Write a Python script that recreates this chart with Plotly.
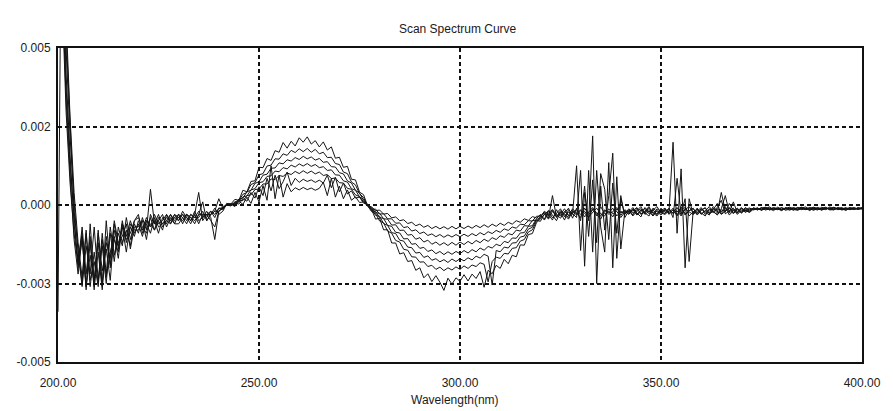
import plotly.graph_objects as go

# Wavelength axis (nm), 1 nm steps
wavelength = list(range(200, 401))

# Seven scanned spectra, values in mAU (absorbance x 1e-3)
curve_1 = [
    14.0, 9.0, 4.2, 1.6, -0.6, -1.8, -0.9, -2.6, -1.2, -2.7,
    -0.8, -2.5, -1.0, -1.9, -0.6, -1.4, -0.5, -1.2, -0.7, -1.0,
    -0.5, -0.8, -0.4, -0.7, -0.5, -0.9, -0.4, -0.6, -0.3, -0.5,
    -0.4, -0.3, -0.5, -0.3, -0.4, -0.2, -0.4, -0.3, -0.3, -0.2, -0.2, -0.1, 0.0,
    0.03, 0.18, 0.15, 0.47, 0.42, 0.75, 0.77, 1.20, 1.19, 1.48, 1.42, 1.73, 1.68, 1.99,
    1.81, 2.03, 1.88, 2.14, 2.00, 2.17, 1.94, 2.05, 1.85, 2.01, 1.75, 1.85, 1.49, 1.52,
    1.20, 1.23, 0.82, 0.80, 0.41, 0.33, -0.02,
    -0.14, -0.45, -0.42, -0.79, -0.79, -1.21, -1.21, -1.56, -1.52, -1.80, -1.77, -2.08, -2.00, -2.32,
    -2.19, -2.44, -2.25, -2.46, -2.72, -2.33, -2.52, -2.32, -2.43, -2.22, -2.42, -2.20, -2.34, -2.12,
    -2.62, -2.08, -2.19, -1.92, -2.02, -1.73, -1.87, -1.60, -1.65, -1.27, -1.28, -0.94, -0.91, -0.57,
    -0.45, -0.32, -0.18, -0.41, -0.25, -0.12, -0.38, -0.22, -0.30,
    1.25, -1.45, 0.40, -0.50, 2.20, -2.50, 0.60, -0.80, 0.30, 1.65, -1.70, 0.20, -0.30,
    -0.15, -0.32, -0.10, -0.28, -0.20, -0.05, -0.35, -0.18, -0.26, -0.12,
    -0.30, -0.15, -0.35, -0.05, -0.28, -0.20, -0.10,
    -0.32, -0.18, -0.08, -0.27, -0.15, 0.05, -0.30, -0.20, -0.10, -0.25, -0.12, -0.22, -0.08, -0.18,
    -0.10, -0.16, -0.08, -0.14, -0.12, -0.18, -0.07, -0.13, -0.10, -0.17, -0.09, -0.14, -0.11, -0.06,
    -0.15, -0.12, -0.08, -0.16, -0.10, -0.13, -0.07, -0.14, -0.11, -0.09, -0.15, -0.10, -0.12, -0.08,
]

curve_2 = [
    -3.4, 12.0, 6.0, 2.8, 0.4, -1.2, -2.3, -0.8, -2.6, -1.5,
    -2.5, -0.9, -2.2, -0.7, -1.6, -0.9, -1.3, -0.4, -1.1, -0.6,
    -0.9, -0.4, -0.8, 0.5, -0.6, -0.3, -0.7, -0.5, -0.6, -0.3,
    -0.5, -0.3, -0.4, -0.6, -0.3, 0.4, -0.5, -0.3, -0.2, -0.4, -0.1, -0.1, 0.0,
    -0.02, 0.10, 0.14, 0.34, 0.40, 0.65, 0.71, 0.96, 1.00, 1.24, 1.27, 1.47, 1.46, 1.63,
    1.58, 1.74, 1.67, 1.79, 1.70, 1.80, 1.68, 1.77, 1.63, 1.68, 1.51, 1.52, 1.32, 1.29,
    1.05, 1.00, 0.73, 0.64, 0.36, 0.24, -0.02,
    -0.21, -0.27, -0.51, -0.57, -0.83, -0.90, -1.13, -1.18, -1.41, -1.44, -1.65, -1.66, -1.82, -1.81,
    -1.96, -1.92, -2.05, -1.98, -2.09, -2.00, -2.07, -1.97, -2.05, -1.94, -2.02, -1.91, -1.96, -1.84,
    -1.89, -2.45, -1.80, -1.66, -1.70, -1.54, -1.56, -1.38, -1.36, -1.15, -1.10, -0.86, -0.79, -0.52,
    -0.40, -0.22, -0.35, -0.15, -0.30, -0.42, -0.20, -0.33, -0.12,
    -0.25, -0.40, -0.10, -0.30, -0.15, -0.35, -0.05, -0.28, -0.20, -0.38, -0.12, -0.25, -0.18,
    -0.30, -0.12, -0.25, -0.38, -0.08, -0.22, -0.15, -0.30, -0.10, -0.24,
    -0.20, 2.00, -0.90, 1.15, -2.00, 0.20, -0.30,
    -0.10, -0.28, -0.20, -0.05, -0.22, -0.30, -0.12, 0.30, -0.25, -0.15, -0.20, -0.08, -0.24, -0.14,
    -0.14, -0.09, -0.17, -0.11, -0.06, -0.15, -0.12, -0.18, -0.08, -0.13, -0.16, -0.10, -0.07, -0.14,
    -0.12, -0.17, -0.09, -0.11, -0.15, -0.06, -0.13, -0.10, -0.16, -0.12, -0.08, -0.14, -0.09, -0.11,
]

curve_3 = [
    11.0, 7.5, 3.4, 1.0, -1.1, -2.2, -1.0, -2.7, -0.6, -2.4,
    -1.2, -2.6, -0.5, -2.0, -1.1, -1.5, -0.6, -1.0, -0.5, -0.9,
    -0.6, -1.0, -0.5, -0.7, -0.3, -0.6, -0.5, -0.3, -0.6, -0.4,
    -0.3, -0.6, -0.3, -0.4, -0.5, -0.3, 0.1, -0.5, -0.3, -0.1, -0.3, -0.2, 0.05,
    0.03, 0.04, 0.19, 0.22, 0.42, 0.47, 0.69, 0.74, 0.95, 0.98, 1.17, 1.18, 1.34, 1.31,
    1.44, 1.40, 1.51, 1.45, 1.55, 1.47, 1.53, 1.43, 1.48, 1.36, 1.38, 1.22, 1.21, 1.03,
    0.99, 0.77, 0.70, 0.47, 0.38, 0.15, 0.02,
    -0.11, -0.33, -0.36, -0.59, -0.65, -0.88, -0.91, -1.12, -1.15, -1.34, -1.36, -1.53, -1.51, -1.67,
    -1.62, -1.76, -1.71, -1.81, -1.74, -1.83, -1.72, -1.80, -1.71, -1.78, -1.68, -1.75, -1.63, -1.69,
    -1.57, -1.63, -2.55, -1.45, -1.49, -1.34, -1.37, -1.21, -1.20, -1.02, -0.99, -0.77, -0.71, -0.48,
    -0.52, -0.28, -0.45, -0.20, -0.36, -0.24, -0.48, -0.15, -0.28,
    -0.40, 1.10, -1.95, 1.10, -1.50, 1.10, -0.70, -1.50, 1.35, -2.00, 0.90, -1.40, -0.20,
    -0.22, -0.08, -0.30, -0.16, -0.25, -0.35, -0.10, -0.20, -0.32, -0.15,
    -0.25, -0.10, -0.30, -0.18, -0.05, -0.35, -0.22,
    -0.15, -0.25, -0.35, -0.12, -0.20, -0.08, 0.15, -0.28, -0.18, -0.10, -0.30, -0.16, -0.21, -0.12,
    -0.12, -0.15, -0.10, -0.07, -0.16, -0.11, -0.14, -0.09, -0.17, -0.12, -0.08, -0.15, -0.13, -0.10,
    -0.18, -0.09, -0.14, -0.11, -0.07, -0.16, -0.12, -0.10, -0.13, -0.17, -0.09, -0.12, -0.14, -0.10,
]

curve_4 = [
    13.0, 10.0, 5.0, 2.2, 0.1, -1.5, -2.6, -1.3, -2.2, -0.7,
    -2.4, -1.3, -2.5, -0.9, -1.8, -0.7, -1.2, -0.8, -1.3, -0.5,
    -0.4, -0.7, -0.9, -0.4, -0.8, -0.5, -0.3, -0.7, -0.4, -0.6,
    -0.6, -0.4, -0.3, -0.5, -0.2, -0.5, -0.4, -0.2, -0.4, -1.1, -0.2, -0.1, 0.0,
    -0.03, 0.08, 0.10, 0.26, 0.29, 0.48, 0.52, 0.71, 0.74, 0.91, 0.93, 1.08, 1.06, 1.19,
    1.15, 1.27, 1.21, 1.31, 1.24, 1.32, 1.23, 1.29, 1.19, 1.22, 1.10, 1.12, 0.96, 0.95,
    0.77, 0.73, 0.52, 0.47, 0.26, 0.18, -0.02,
    -0.18, -0.20, -0.40, -0.43, -0.65, -0.68, -0.87, -0.89, -1.08, -1.07, -1.25, -1.23, -1.38, -1.35,
    -1.48, -1.43, -1.55, -1.48, -1.58, -1.49, -1.57, -1.48, -1.55, -1.45, -1.53, -1.42, -1.49, -1.37,
    -1.44, -1.32, -1.37, -1.25, -1.30, -1.16, -1.20, -1.05, -1.06, -0.89, -0.88, -0.68, -0.66, -0.44,
    -0.30, -0.45, -0.18, -0.32, -0.50, -0.22, -0.28, -0.40, -0.18,
    -0.28, -0.15, -0.38, -0.22, -0.08, -0.30, -0.45, -0.18, -0.25, -0.10, -0.35, -0.20, -0.28,
    -0.12, -0.26, -0.18, -0.05, -0.30, -0.20, -0.35, -0.12, -0.22, -0.28,
    -0.10, -0.40, 0.85, -0.30, 0.20, -1.80, -0.20,
    -0.28, -0.12, -0.22, -0.32, -0.10, -0.25, 0.40, -0.18, -0.08, -0.28, -0.14, -0.25, -0.10, -0.20,
    -0.09, -0.13, -0.16, -0.10, -0.14, -0.08, -0.12, -0.15, -0.11, -0.07, -0.14, -0.17, -0.10, -0.12,
    -0.08, -0.15, -0.11, -0.13, -0.09, -0.14, -0.16, -0.08, -0.12, -0.10, -0.15, -0.11, -0.13, -0.12,
]

curve_5 = [
    12.0, 8.2, 3.8, 1.3, -0.3, -2.0, -1.1, -2.6, -1.6, -2.5,
    -0.9, -2.1, -1.4, -2.4, -0.8, -1.3, -0.7, -1.5, -0.6, -0.8,
    -0.8, -0.5, -0.6, -0.9, -0.4, -0.7, -0.6, -0.4, -0.5, -0.3,
    -0.4, -0.5, -0.3, -0.4, -0.6, -0.3, -0.3, -0.4, -0.2, -0.3, -0.1, -0.15, 0.05,
    0.02, 0.01, 0.15, 0.14, 0.30, 0.32, 0.49, 0.51, 0.67, 0.67, 0.83, 0.81, 0.94, 0.91,
    1.02, 0.97, 1.07, 1.00, 1.09, 1.01, 1.08, 0.99, 1.05, 0.94, 0.97, 0.84, 0.86, 0.71,
    0.70, 0.53, 0.50, 0.32, 0.27, 0.10, 0.01,
    -0.08, -0.25, -0.26, -0.44, -0.45, -0.64, -0.63, -0.81, -0.80, -0.96, -0.94, -1.09, -1.04, -1.18,
    -1.12, -1.25, -1.18, -1.28, -1.20, -1.29, -1.19, -1.28, -1.18, -1.26, -1.16, -1.24, -1.13, -1.20,
    -1.09, -1.16, -1.04, -1.10, -0.98, -1.03, -0.91, -0.95, -0.80, -0.83, -0.66, -0.67, -0.50, -0.48,
    -0.38, -0.20, -0.30, -0.48, -0.15, -0.35, -0.26, -0.10, -0.42,
    -0.10, -0.50, 0.60, -1.00, 0.80, -1.20, 1.00, 0.50, -1.10, 0.70, -0.90, 0.30, -0.40,
    -0.18, -0.35, -0.20, -0.12, -0.26, -0.08, -0.22, -0.30, -0.15, -0.20,
    -0.12, -0.28, -0.18, -0.35, -0.10, -0.22, -0.30,
    -0.20, -0.08, -0.30, -0.15, -0.24, -0.12, -0.22, -0.05, -0.32, -0.18, -0.10, -0.26, -0.15, -0.09,
    -0.16, -0.11, -0.13, -0.08, -0.15, -0.12, -0.10, -0.16, -0.13, -0.09, -0.11, -0.14, -0.08, -0.15,
    -0.10, -0.12, -0.16, -0.07, -0.13, -0.11, -0.09, -0.15, -0.12, -0.14, -0.10, -0.08, -0.13, -0.11,
]

curve_6 = [
    15.0, 11.0, 5.5, 2.5, -0.2, -1.4, -2.5, -0.9, -2.4, -1.8,
    -2.6, -1.1, -2.3, -1.5, -1.0, -1.7, -0.6, -1.1, -0.9, -0.5,
    -0.3, -0.9, -0.5, -0.6, -0.8, -0.4, -0.6, -0.5, -0.3, -0.6,
    -0.3, -0.4, -0.6, -0.3, -0.4, -0.4, -0.2, -0.5, -0.3, -0.2, 0.2, -0.1, 0.0,
    0.0, 0.06, 0.03, 0.20, 0.12, 0.40, 0.22, 0.58, 0.30, 0.85, 0.45, 0.95, 0.52, 0.74,
    1.05, 0.62, 0.85, 0.72, 0.82, 0.75, 0.80, 0.72, 0.79, 0.70, 0.95, 0.55, 0.88, 0.42,
    0.70, 0.35, 0.45, 0.22, 0.25, 0.06, 0.02,
    -0.14, -0.13, -0.29, -0.28, -0.44, -0.44, -0.58, -0.57, -0.72, -0.69, -0.83, -0.79, -0.91, -0.86,
    -0.97, -0.92, -1.01, -0.94, -1.03, -0.95, -1.02, -0.94, -1.01, -0.93, -1.00, -0.91, -0.98, -0.88,
    -0.95, -0.85, -0.91, -0.81, -0.87, -0.76, -0.81, -0.70, -0.74, -0.61, -0.63, -0.50, -0.51, -0.36,
    -0.35, -0.25, -0.42, 0.30, -0.38, -0.18, -0.30, -0.45, -0.20,
    -0.32, -0.18, -0.26, -0.40, -0.12, -0.25, -0.35, -0.15, -0.30, -0.22, -0.08, -0.33, -0.15,
    -0.25, -0.15, -0.32, -0.20, -0.10, -0.28, -0.18, -0.05, -0.25, -0.30,
    -0.18, -0.25, -0.08, -0.30, -0.15, -0.05, -0.25,
    -0.12, -0.30, -0.18, -0.25, -0.05, -0.20, -0.28, -0.10, -0.22, 0.10, -0.25, -0.12, -0.18, -0.22,
    -0.11, -0.14, -0.09, -0.16, -0.12, -0.10, -0.15, -0.08, -0.13, -0.11, -0.16, -0.09, -0.12, -0.14,
    -0.10, -0.07, -0.13, -0.15, -0.11, -0.09, -0.14, -0.12, -0.08, -0.16, -0.11, -0.13, -0.10, -0.12,
]

curve_7 = [
    10.0, 6.8, 3.0, 0.7, -0.9, -1.9, -0.7, -2.2, -1.0, -2.6,
    -1.5, -2.7, -1.2, -1.7, -0.5, -1.2, -1.0, -0.6, -1.4, -0.7,
    -0.7, -0.5, -1.1, -0.3, -0.6, -0.5, -0.8, -0.3, -0.5, -0.4,
    -0.5, -0.2, -0.4, -0.5, -0.3, -0.6, -0.3, -0.3, -0.5, -0.7, -0.2, -0.05, 0.0,
    0.03, -0.05, 0.12, 0.02, 0.25, 0.05, 0.40, 0.10, 0.62, 0.15, 1.25, 0.20, 0.95, 0.25,
    0.68, 0.42, 0.55, 0.48, 0.56, 0.49, 0.54, 0.47, 0.53, 0.72, 0.30, 0.85, 0.25, 0.60,
    0.20, 0.48, 0.15, 0.26, 0.08, 0.10, -0.03,
    -0.06, -0.18, -0.16, -0.29, -0.27, -0.41, -0.38, -0.50, -0.47, -0.59, -0.55, -0.66, -0.61, -0.71,
    -0.65, -0.75, -0.68, -0.76, -0.69, -0.77, -0.68, -0.76, -0.68, -0.75, -0.67, -0.74, -0.65, -0.72,
    -0.63, -0.71, -0.61, -0.68, -0.58, -0.65, -0.55, -0.61, -0.50, -0.55, -0.44, -0.49, -0.37, -0.41,
    -0.33, -0.48, -0.25, -0.15, -0.40, -0.30, -0.12, -0.35, -0.25,
    -0.15, -0.30, -0.20, -0.38, -0.25, -0.10, -0.28, -0.35, -0.12, -0.28, -0.20, -0.40, -0.22,
    -0.28, -0.18, -0.08, -0.30, -0.22, -0.15, -0.25, -0.35, -0.18, -0.10,
    -0.28, -0.15, -0.22, -0.10, -0.32, -0.18, -0.12,
    -0.25, -0.15, -0.10, -0.28, -0.20, -0.32, -0.15, -0.22, 0.05, -0.18, -0.26, -0.10, -0.16, -0.24,
    -0.13, -0.10, -0.15, -0.12, -0.09, -0.14, -0.11, -0.16, -0.10, -0.13, -0.12, -0.08, -0.15, -0.11,
    -0.14, -0.09, -0.12, -0.16, -0.10, -0.13, -0.08, -0.12, -0.15, -0.10, -0.11, -0.14, -0.09, -0.12,
]

curves = [curve_1, curve_2, curve_3, curve_4, curve_5, curve_6, curve_7]

# Axis ticks (y in mAU, labelled in absorbance units as in the original)
x_tickvals = [200, 250, 300, 350, 400]
x_ticktext = ["200.00", "250.00", "300.00", "350.00", "400.00"]
y_tickvals = [-5, -2.5, 0, 2.5, 5]
y_ticktext = ["-0.005", "-0.003", "0.000", "0.002", "0.005"]

FONT = "Liberation Sans Narrow, Arial Narrow, Liberation Sans, Arial, sans-serif"
FS = 12

fig = go.Figure()
for c in curves:
    fig.add_trace(go.Scatter(
        x=wavelength, y=c, mode="lines",
        line=dict(color="#141414", width=1),
        hoverinfo="skip", showlegend=False,
    ))

fig.update_layout(
    width=893, height=411,
    margin=dict(l=58, r=23, t=48, b=49),
    paper_bgcolor="white", plot_bgcolor="white",
    font=dict(family=FONT, size=FS, color="#1a1a1a"),
    title=dict(text="Scan Spectrum Curve", x=0.497, xref="paper",
               y=1 - 29 / 411, yref="container", yanchor="middle", xanchor="center",
               font=dict(family=FONT, size=FS, color="#1a1a1a")),
    showlegend=False,
)

fig.update_xaxes(
    range=[200, 400], tickvals=x_tickvals, ticktext=x_ticktext,
    showgrid=True, gridcolor="#111", gridwidth=1.6, griddash="4px,3px",
    showline=True, linecolor="#111", linewidth=2, mirror=True,
    zeroline=False, ticks="outside", ticklen=9, tickcolor="rgba(0,0,0,0)",
    tickfont=dict(family=FONT, size=FS),
)
fig.update_yaxes(
    range=[-5, 5], tickvals=y_tickvals, ticktext=y_ticktext,
    showgrid=True, gridcolor="#111", gridwidth=1.6, griddash="4px,3px",
    showline=True, linecolor="#111", linewidth=2, mirror=True,
    zeroline=False, ticks="outside", ticklen=3, tickcolor="rgba(0,0,0,0)",
    tickfont=dict(family=FONT, size=FS),
)

fig.add_annotation(
    text="Wavelength(nm)", xref="paper", yref="paper",
    x=0.494, y=-(400 - 362) / 314, xanchor="center", yanchor="middle",
    showarrow=False, font=dict(family=FONT, size=FS, color="#1a1a1a"),
)

fig.write_html("out.html")
